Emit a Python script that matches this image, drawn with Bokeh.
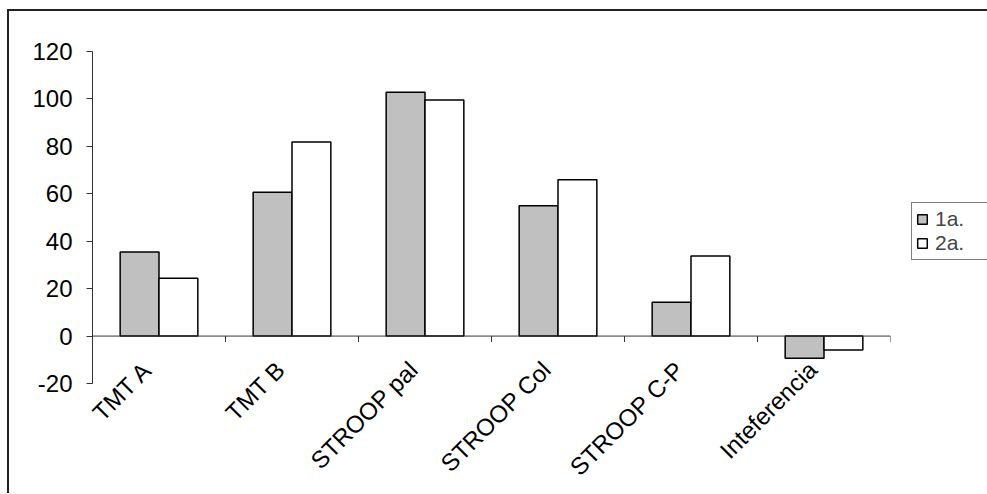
import math
from bokeh.plotting import figure
from bokeh.models import (Range1d, FixedTicker, LinearAxis, Legend, LegendItem,
                          Span, ColumnDataSource)
from bokeh.transform import dodge
from bokeh.embed import file_html
from bokeh.resources import INLINE

categories = ["TMT A", "TMT B", "STROOP pal", "STROOP Col", "STROOP C-P", "Inteferencia"]
serie_1a = [35.4, 60.7, 102.8, 55.0, 14.3, -9.3]
serie_2a = [24.4, 81.8, 99.5, 65.9, 33.8, -5.9]
y_ticks = [-20, 0, 20, 40, 60, 80, 100, 120]

n = len(categories)
centers = [i + 0.5 for i in range(n)]
bounds = list(range(n + 1))
label_shift = -0.085  # category labels sit slightly left of the slot centre

src = ColumnDataSource(dict(x=centers, a=serie_1a, b=serie_2a))

FONT = "Liberation Sans"

p = figure(frame_width=798, frame_height=332,
           x_range=Range1d(0, n), y_range=Range1d(y_ticks[0], y_ticks[-1]),
           x_axis_type=None, output_backend="svg", toolbar_location=None,
           min_border_left=83, min_border_top=40, min_border_bottom=110,
           min_border_right=96,
           styles={"border-left": "2px solid #222", "border-top": "2px solid #222",
                   "margin-left": "7px", "margin-top": "9px"})
p.xgrid.grid_line_color = None
p.ygrid.grid_line_color = None
p.outline_line_color = None
p.background_fill_color = "white"
p.border_fill_color = "white"

bw = 0.292
r1 = p.vbar(x=dodge("x", -bw / 2, range=p.x_range), top="a", bottom=0, width=bw,
            source=src, fill_color="#C0C0C0", line_color="black", line_width=1.5)
r2 = p.vbar(x=dodge("x", bw / 2, range=p.x_range), top="b", bottom=0, width=bw,
            source=src, fill_color="white", line_color="black", line_width=1.5)

# zero line and category boundary ticks
p.add_layout(Span(location=0, dimension="width", line_color="#333", line_width=1))
p.segment(x0=bounds, x1=bounds, y0=0, y1=-2.5, line_color="#333", line_width=1)

# y axis
yax = p.yaxis[0]
yax.ticker = FixedTicker(ticks=y_ticks)
yax.major_label_overrides = {t: str(t) for t in y_ticks}
yax.major_label_text_font = FONT
yax.major_label_text_font_size = "24px"
yax.major_label_text_color = "black"
yax.major_tick_out = 6
yax.major_tick_in = 0
yax.minor_tick_line_color = None
yax.axis_line_color = "#333"
yax.major_tick_line_color = "#333"
yax.major_label_standoff = 14

# category labels
label_pos = [c + label_shift for c in centers]
xax = LinearAxis(ticker=FixedTicker(ticks=label_pos),
                 major_label_overrides={c: name for c, name in zip(label_pos, categories)},
                 major_label_orientation=math.pi / 4,
                 axis_line_color=None, major_tick_line_color=None,
                 minor_tick_line_color=None, major_label_standoff=-24,
                 major_label_text_font=FONT, major_label_text_font_size="24px",
                 major_label_text_color="black")
p.add_layout(xax, "below")

legend = Legend(items=[LegendItem(label="1a.", renderers=[r1]),
                       LegendItem(label="2a.", renderers=[r2])],
                location=(21, 123), orientation="vertical",
                border_line_color="black", border_line_width=1.5,
                background_fill_color="white", background_fill_alpha=1,
                padding=4, spacing=0, margin=0,
                glyph_width=12, glyph_height=12, label_standoff=7,
                label_text_font=FONT, label_text_font_size="21px",
                label_height=20, label_width=60)
p.add_layout(legend, "right")

open("out.html", "w").write(file_html(p, INLINE))
